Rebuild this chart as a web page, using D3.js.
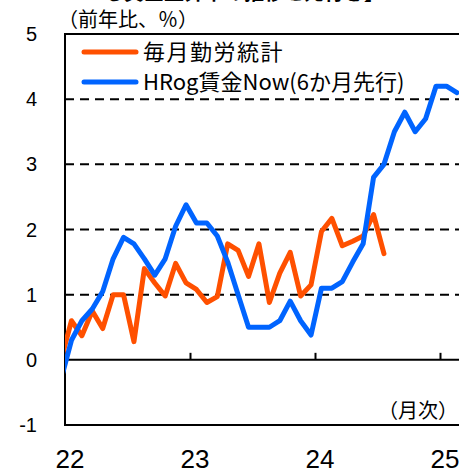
<!DOCTYPE html>
<html>
<head>
<meta charset="utf-8">
<script src="https://cdn.jsdelivr.net/npm/d3@7"></script>
<style>
  html, body { margin: 0; padding: 0; background: #fff; overflow: hidden; }
  svg { display: block; }
</style>
</head>
<body>
<svg id="chart" width="459" height="474"></svg>
<script>
// ---- data ----
// monthly index: 0 = Dec 2021, 1 = Jan 2022, ...
const monthIndex = d3.range(0, 39);
const maikinSeries = [0.0, 0.6, 0.37, 0.75, 0.48, 1.0, 1.0, 0.28, 1.4, 1.18, 0.98, 1.48, 1.18, 1.08, 0.88, 0.97,
  1.78, 1.68, 1.28, 1.78, 0.88, 1.33, 1.65, 0.98, 1.15, 1.97, 2.17, 1.75, 1.82, 1.9, 2.23, 1.63];
const hrogSeries = [-0.3, 0.3, 0.6, 0.78, 1.05, 1.55, 1.88, 1.78, 1.55, 1.3, 1.55, 2.05, 2.38, 2.1, 2.1, 1.9,
  1.5, 1.0, 0.5, 0.5, 0.5, 0.6, 0.9, 0.6, 0.38, 1.1, 1.1, 1.2, 1.5, 1.78, 2.8, 3.0, 3.5, 3.8, 3.5, 3.7, 4.2, 4.2, 4.1];
const seriesNames = ["毎月勤労統計", "HRog賃金Now(6か月先行)"];
const yTicks = [-1, 0, 1, 2, 3, 4, 5];
const yGridTicks = [1, 2, 3, 4];
const xTickMonths = [0, 12, 24, 36];
const xTickLabels = ["22", "23", "24", "25"];
const yUnitLabel = "（前年比、％）";
const xUnitLabel = "（月次）";
const titleText = "る賃金上昇率の推移と先行き】";

// ---- layout ----
const svg = d3.select("#chart");
const pL = 65, pT = 34, pB = 425, pR = 470;
const colors = ["#FF5000", "#0064FF"];
const jp = "'Noto Sans CJK JP', 'Noto Sans', sans-serif";
const num = "'Liberation Sans', Arial, sans-serif";

const x = d3.scaleLinear().domain([0, 36]).range([pL, 440]);
const y = d3.scaleLinear().domain([-1, 5]).range([pB, pT]);
const offset = -1 + 0.62; // position of a month's point relative to year boundary

// clip
svg.append("defs").append("clipPath").attr("id", "plotclip")
  .append("rect").attr("x", pL).attr("y", pT).attr("width", pR - pL).attr("height", pB - pT);

// title (cropped at the top)
svg.append("text").attr("x", 104).attr("y", 0)
  .attr("font-family", jp).attr("font-weight", "bold").attr("font-size", 20)
  .attr("fill", "#000").text(titleText);

// gridlines
svg.append("g").selectAll("line").data(yGridTicks).join("line")
  .attr("x1", pL).attr("x2", pR)
  .attr("y1", d => y(d)).attr("y2", d => y(d))
  .attr("stroke", "#000").attr("stroke-width", 2).attr("stroke-dasharray", "9,6");

// frame
svg.append("rect").attr("x", pL).attr("y", pT).attr("width", pR - pL).attr("height", pB - pT)
  .attr("fill", "none").attr("stroke", "#000").attr("stroke-width", 2);

// zero axis with ticks
const xAxis = d3.axisTop(x).tickValues(xTickMonths).tickSize(7).tickFormat("");
const gx = svg.append("g").attr("transform", `translate(0,${y(0)})`).call(xAxis);
gx.select(".domain").remove();
gx.selectAll(".tick line").attr("stroke", "#000").attr("stroke-width", 2);
svg.append("line").attr("x1", pL).attr("x2", pR).attr("y1", y(0)).attr("y2", y(0))
  .attr("stroke", "#000").attr("stroke-width", 2);

// x tick labels
svg.append("g").selectAll("text").data(xTickMonths).join("text")
  .attr("x", d => x(d) + 5).attr("y", 468).attr("text-anchor", "middle")
  .attr("font-family", num).attr("font-size", 26).attr("fill", "#000")
  .text((d, i) => xTickLabels[i]);

// y tick labels
svg.append("g").selectAll("text").data(yTicks).join("text")
  .attr("x", 37).attr("y", d => y(d) + 7).attr("text-anchor", "end")
  .attr("font-family", num).attr("font-size", 20).attr("fill", "#000")
  .text(d => d);

// unit labels
svg.append("text").attr("x", 58).attr("y", 27)
  .attr("font-family", jp).attr("font-size", 20).attr("fill", "#000").text(yUnitLabel);
svg.append("text").attr("x", 458).attr("y", 418).attr("text-anchor", "end")
  .attr("font-family", jp).attr("font-size", 20).attr("fill", "#000").text(xUnitLabel);

// lines
const line = d3.line().x((d, i) => x(monthIndex[i] + offset)).y(d => y(d));
const g = svg.append("g").attr("clip-path", "url(#plotclip)");
[maikinSeries, hrogSeries].forEach((s, i) => {
  g.append("path").datum(s).attr("d", line)
    .attr("fill", "none").attr("stroke", colors[i]).attr("stroke-width", 5)
    .attr("stroke-linejoin", "round").attr("stroke-linecap", "round");
});

// legend
const leg = svg.append("g");
[52, 82].forEach((ly, i) => {
  leg.append("line").attr("x1", 84).attr("x2", 136).attr("y1", ly).attr("y2", ly)
    .attr("stroke", colors[i]).attr("stroke-width", 5).attr("stroke-linecap", "round");
  leg.append("text").attr("x", 143).attr("y", ly + 8)
    .attr("font-family", jp).attr("font-size", 22).attr("fill", "#000")
    .attr("letter-spacing", i === 0 ? 1.5 : 0).text(seriesNames[i]);
});
</script>
</body>
</html>
